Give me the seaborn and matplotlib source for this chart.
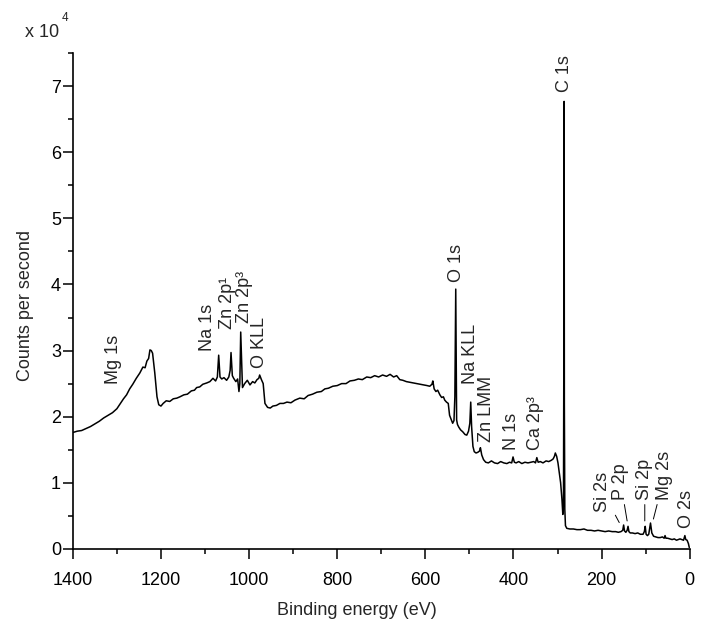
import pandas as pd
import matplotlib
matplotlib.use("Agg")
import matplotlib.pyplot as plt
import seaborn as sns
from matplotlib.ticker import MultipleLocator

# =========================
# Spectrum
# binding energy in eV, counts in units of 1e4
# =========================

energy = [
    1400, 1390, 1380, 1370, 1360, 1350, 1340, 1330, 1320, 1310,
    1300, 1293, 1285, 1278, 1271, 1264, 1256, 1248, 1241, 1236,
    1232, 1228, 1225, 1222, 1219, 1214, 1209, 1205, 1200, 1195,
    1188, 1180, 1172, 1164, 1157, 1148, 1140, 1131, 1124, 1119,
    1112, 1105, 1096, 1089, 1082, 1076, 1072, 1069, 1066, 1062,
    1057, 1051, 1046, 1043, 1041, 1038, 1035, 1030, 1026, 1023,
    1021, 1019, 1015, 1010, 1004, 998, 992, 987, 982, 978,
    976, 972, 968, 964, 958, 952, 946, 938, 930, 922,
    914, 905, 896, 885, 875, 866, 856, 846, 836, 828,
    820, 810, 800, 790, 780, 771, 761, 752, 743, 733,
    724, 715, 706, 697, 688, 680, 672, 665, 658, 651,
    643, 635, 627, 619, 611, 603, 596, 590, 585, 583,
    580, 576, 572, 567, 563, 559, 556, 552, 548, 545,
    541, 538, 535, 533, 531, 529, 527, 524, 520, 515,
    510, 506, 502, 499, 497, 495, 492, 489, 485, 481,
    477, 475, 472, 468, 463, 457, 450, 443, 436, 429,
    422, 415, 409, 404, 401, 398, 394, 388, 381, 374,
    367, 360, 354, 350, 347, 344, 339, 333, 326, 320,
    314, 310, 307, 305, 302, 299, 296, 293, 290, 288,
    286.5, 285.5, 285, 284.5, 283.5, 282, 279, 272, 264, 256,
    248, 240, 232, 224, 216, 208, 200, 192, 184, 176,
    168, 162, 156, 152, 150, 148, 145, 142, 140, 138,
    135, 130, 124, 118, 112, 106, 103, 101, 99, 96,
    93, 91, 89, 86, 82, 77, 72, 67, 62, 58,
    56, 54, 50, 45, 40, 35, 30, 26, 22, 18,
    14, 11, 9, 6, 3, 1,
]

counts = [
    1.76, 1.78, 1.79, 1.82, 1.85, 1.89, 1.93, 1.98, 2.02, 2.06,
    2.12, 2.19, 2.27, 2.33, 2.42, 2.49, 2.58, 2.66, 2.75, 2.74,
    2.84, 2.88, 3.01, 3.0, 2.96, 2.66, 2.3, 2.18, 2.16, 2.2,
    2.24, 2.23, 2.27, 2.28, 2.3, 2.33, 2.34, 2.39, 2.4, 2.44,
    2.45, 2.49, 2.51, 2.53, 2.58, 2.54, 2.6, 2.93, 2.6, 2.57,
    2.59, 2.55, 2.6, 2.7, 2.97, 2.62, 2.58, 2.53, 2.57, 2.38,
    2.5, 3.28, 2.44, 2.5, 2.55, 2.48, 2.53, 2.51, 2.56, 2.58,
    2.63, 2.56, 2.5, 2.2, 2.14, 2.13, 2.16, 2.17, 2.2, 2.2,
    2.22, 2.21, 2.25, 2.28, 2.27, 2.32, 2.34, 2.37, 2.38, 2.42,
    2.43, 2.46, 2.47, 2.5, 2.5, 2.54, 2.55, 2.57, 2.56, 2.6,
    2.59, 2.62, 2.6, 2.63, 2.61, 2.64, 2.6, 2.62, 2.56, 2.55,
    2.53, 2.52, 2.51, 2.5, 2.49, 2.48, 2.47, 2.46, 2.49, 2.54,
    2.42, 2.38, 2.4, 2.33, 2.29, 2.3, 2.25, 2.22, 2.2, 2.02,
    1.95, 1.9, 1.94, 2.3, 3.93, 1.95, 1.88, 1.84, 1.8, 1.77,
    1.73, 1.72, 1.78, 1.9, 2.22, 1.85, 1.55, 1.47, 1.45, 1.46,
    1.48, 1.53, 1.42, 1.35, 1.31, 1.3, 1.33, 1.3, 1.29, 1.32,
    1.3, 1.29, 1.31, 1.3, 1.39, 1.31, 1.3, 1.32, 1.29, 1.31,
    1.3, 1.31, 1.32, 1.3, 1.38, 1.31, 1.32, 1.3, 1.33, 1.32,
    1.34, 1.36, 1.4, 1.45, 1.4, 1.3, 1.15, 1.0, 0.75, 0.52,
    0.7, 3.5, 6.77, 2.2, 0.6, 0.35, 0.31, 0.3, 0.3, 0.29,
    0.29, 0.3, 0.28, 0.28, 0.27, 0.28, 0.27, 0.26, 0.27, 0.26,
    0.26, 0.25, 0.26, 0.28, 0.36, 0.27, 0.25, 0.28, 0.34, 0.26,
    0.24, 0.24, 0.23, 0.24, 0.22, 0.22, 0.26, 0.34, 0.22, 0.2,
    0.22, 0.3, 0.39, 0.24, 0.19, 0.18, 0.17, 0.17, 0.18, 0.16,
    0.2, 0.16, 0.16, 0.15, 0.14, 0.15, 0.13, 0.14, 0.15, 0.14,
    0.13, 0.2, 0.14, 0.13, 0.08, 0.02,
]

spectrum = pd.DataFrame({"energy": energy, "counts": counts})

# =========================
# Peak labels: text, energy, bottom of label
# =========================

label_text = ["Mg 1s", "Na 1s", "Zn 2p\u00b9", "Zn 2p\u00b3", "O KLL",
              "O 1s", "Na KLL", "Zn LMM", "N 1s", "Ca 2p\u00b3", "C 1s",
              "O 2s"]
label_x = [1307, 1094, 1048, 1010, 976, 529, 497, 461, 404, 349, 284, 8]
label_y = [2.50, 3.00, 3.33, 3.41, 2.73, 4.03, 2.50, 1.61, 1.49, 1.49,
           6.92, 0.32]

# small peaks with leader lines
lead_text = ["Si 2s", "P 2p", "Si 2p", "Mg 2s"]
lead_x = [197, 157, 102, 57]
lead_y = [0.56, 0.74, 0.74, 0.74]
lead_peak_x = [157, 141, 102, 84]
lead_peak_y = [0.36, 0.38, 0.38, 0.41]

# =========================
# Plot
# =========================

sns.set_style("ticks")
plt.rcParams["font.family"] = ["Liberation Sans", "DejaVu Sans"]

fs = 13

fig = plt.figure(figsize=(7.14, 6.33), dpi=100)
ax = fig.add_axes([0.102, 0.133, 0.864, 0.783])

sns.lineplot(
    data=spectrum,
    x="energy",
    y="counts",
    sort=False,
    estimator=None,
    color="black",
    linewidth=1.1,
    ax=ax
)

for txt, x, y in zip(label_text, label_x, label_y):
    ax.text(x, y, txt, rotation=90, ha="center", va="bottom",
            fontsize=fs)

for txt, x, y, px, py in zip(lead_text, lead_x, lead_y,
                             lead_peak_x, lead_peak_y):
    ax.annotate(
        txt,
        xy=(px, py),
        xytext=(x, y),
        rotation=90,
        ha="center",
        va="bottom",
        fontsize=fs,
        arrowprops=dict(arrowstyle="-", color="black", lw=0.7,
                        shrinkA=1, shrinkB=2)
    )

ax.set_xlim(1400, 0)
ax.set_ylim(0, 7.5)
ax.set_yticks(range(0, 8))
ax.xaxis.set_minor_locator(MultipleLocator(100))
ax.yaxis.set_minor_locator(MultipleLocator(0.5))

ax.tick_params(which="major", length=7, width=1.1, labelsize=fs,
               color="black", labelcolor="black")
ax.tick_params(which="minor", length=3.6, width=1.1, color="black")
ax.tick_params(axis="x", which="major", pad=10)
ax.tick_params(axis="y", which="major", pad=1.5)

for side in ["left", "bottom"]:
    ax.spines[side].set_linewidth(1.2)
    ax.spines[side].set_color("black")
sns.despine(ax=ax)

ax.set_xlabel("Binding energy (eV)", fontsize=fs, labelpad=9)
ax.xaxis.label.set_x(0.46)
ax.set_ylabel("Counts per second", fontsize=fs)
ax.yaxis.set_label_coords(-0.063, 0.49)

fig.text(0.035, 0.948, "x 10", fontsize=fs, va="center")
fig.text(0.087, 0.972, "4", fontsize=8.5, va="center")

fig.savefig("out.png", dpi=100)
